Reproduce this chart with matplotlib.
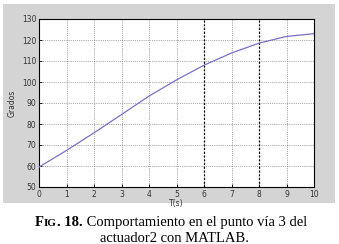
import matplotlib
matplotlib.use('Agg')
import matplotlib.pyplot as plt
from matplotlib.patches import Rectangle

# values
t = [0, 1, 2, 3, 4, 5, 6, 7, 8, 9, 10]
grados = [59.5, 67.4, 75.8, 84.5, 93.3, 101.0, 108.0, 113.8, 118.5, 121.7, 123.0]
xticks = list(range(0, 11))
yticks = list(range(50, 131, 10))

W, H = 339, 244
fig = plt.figure(figsize=(W / 100, H / 100), dpi=100)
fig.patch.set_facecolor('white')

# gray MATLAB figure panel
fig.patches.append(Rectangle((3 / W, 1 - 203 / H), 332 / W, 199 / H,
                             transform=fig.transFigure, facecolor='#d4d4d4',
                             edgecolor='none', zorder=-1))

ax = fig.add_axes([39 / W, 1 - 187 / H, 275 / W, 168 / H])
ax.set_zorder(1)
ax.set_facecolor('white')
ax.plot(t, grados, color='#7a70c8', lw=0.9, zorder=3)
ax.set_xlim(0, 10)
ax.set_ylim(50, 130)
ax.set_xticks(xticks)
ax.set_yticks(yticks)
ax.tick_params(direction='in', length=2, width=0.6, labelsize=5.5,
               labelcolor='#333333', pad=2)
ax.grid(True, color='#555555', linestyle=(0, (1.2, 1.8)), linewidth=0.45)
for x in (6, 8):
    ax.axvline(x, color='black', linestyle=(0, (1.5, 1.5)), linewidth=0.9, zorder=2)
for s in ax.spines.values():
    s.set_linewidth(0.8)
ax.set_xlabel('T(s)', fontsize=5.5, color='#333333', labelpad=0)
ax.set_ylabel('Grados', fontsize=5.5, color='#333333', labelpad=4)

# caption with small caps "FIG."
serif = 'Liberation Serif'
fig.canvas.draw()
r = fig.canvas.get_renderer()
pieces = [('F', 10.5, 'bold'), ('IG', 8, 'bold'), ('. 18.', 10.5, 'bold'),
          (' Comportamiento en el punto vía 3 del', 10.5, 'normal')]
texts = [fig.text(0, 0, s, fontsize=fs, fontweight=fw, family=serif, va='baseline')
         for s, fs, fw in pieces]
widths = [tx.get_window_extent(r).width for tx in texts]
total = sum(widths)
x0 = 171 - total / 2
y1 = 1 - 226 / H
for tx, w in zip(texts, widths):
    tx.set_position((x0 / W, y1))
    x0 += w
fig.text(174 / W, 1 - 242 / H, 'actuador2 con MATLAB.', fontsize=10.5,
         family=serif, ha='center', va='baseline')

fig.savefig('out.png', dpi=100)
